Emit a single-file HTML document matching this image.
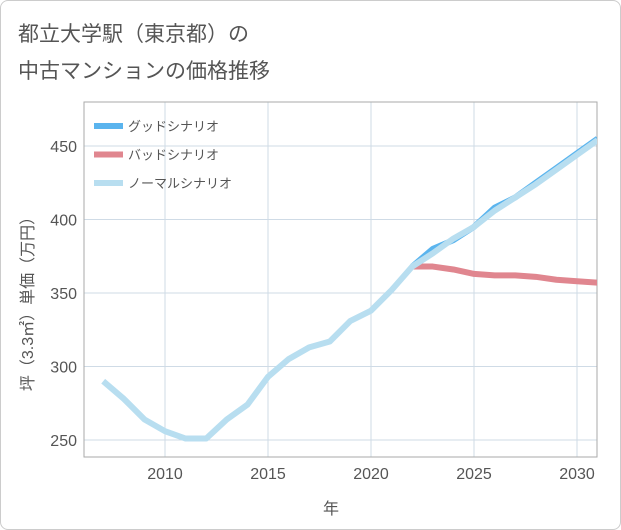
<!DOCTYPE html>
<html><head><meta charset="utf-8"><style>
body{margin:0;background:#fff;font-family:"Liberation Sans","Noto Sans CJK JP",sans-serif;}
#wrap{position:relative;width:619px;height:528px;border:1px solid #ccc;border-radius:8px;overflow:hidden;background:#fff}
</style></head><body>
<div id="wrap">
<svg id="chart" width="621" height="530" style="position:absolute;left:-1px;top:-1px"></svg>
</div>
<script>
const years=[2007,2008,2009,2010,2011,2012,2013,2014,2015,2016,2017,2018,2019,2020,2021,2022,2023,2024,2025,2026,2027,2028,2029,2030,2031];
const normal=[290,278,264,256,251,251,264,274,293,305,313,317,331,338,352,368,377,387,395,406,415,424,434,444,454];
const goodYears=[2022,2023,2024,2025,2026,2027,2028,2029,2030,2031];
const good=[368,380,386,395,408,415,425,435,445,455];
const badYears=[2022,2023,2024,2025,2026,2027,2028,2029,2030,2031];
const bad=[368,368,366,363,362,362,361,359,358,357];
const xTicks=[2010,2015,2020,2025,2030];
const yTicks=[250,300,350,400,450];
const NS="http://www.w3.org/2000/svg";
const svg=document.getElementById('chart');
const L=84,R=597,T=102,B=457;
const x=v=>165+(v-2010)*20.6;
const y=v=>440-(v-250)*1.47;
function mk(t,a,p){const e=document.createElementNS(NS,t);for(const k in a)e.setAttribute(k,a[k]);(p||svg).appendChild(e);return e;}
let t;
t=mk('text',{x:18,y:41,'font-size':21,fill:'#555'});t.textContent='都立大学駅（東京都）の';


t=mk('text',{x:18,y:78,'font-size':21,fill:'#555'});t.textContent='中古マンションの価格推移';


xTicks.forEach(v=>{const l=mk('line',{x1:x(v),x2:x(v),y1:T,y2:B,stroke:'#cfdbe6','stroke-width':1});


const tx=mk('text',{x:x(v),y:479,'font-size':16,fill:'#555','text-anchor':'middle'});tx.textContent=v;

});
yTicks.forEach(v=>{const l=mk('line',{x1:L,x2:R,y1:y(v),y2:y(v),stroke:'#cfdbe6','stroke-width':1});


const tx=mk('text',{x:77,y:y(v)+6,'font-size':16,fill:'#555','text-anchor':'end'});tx.textContent=v;

});
const fr=mk('rect',{x:L,y:T,width:R-L,height:B-T,fill:'none',stroke:'#aaa','stroke-width':1});


const cp=mk('clipPath',{id:'cp'});mk('rect',{x:L,y:T,width:R-L,height:B-T},cp);
function series(xs,ys,c,n){const p=mk('polyline',{points:xs.map((v,i)=>x(v)+','+y(ys[i])).join(' '),fill:'none',stroke:c,'stroke-width':6,'stroke-linejoin':'round','clip-path':'url(#cp)'});

}
series(badYears,bad,'#e0868f','bad-scenario-line');
series(goodYears,good,'#5ab4ee','good-scenario-line');
series(years,normal,'#b8def0','normal-scenario-line');
[['グッドシナリオ','#5ab4ee','legend-good'],['バッドシナリオ','#e0868f','legend-bad'],['ノーマルシナリオ','#b8def0','legend-normal']].forEach((d,i)=>{
const yy=126+i*28.5;const g=mk('g',{});


mk('line',{x1:94,x2:123,y1:yy,y2:yy,stroke:d[1],'stroke-width':6},g);
const tx=mk('text',{x:128,y:yy+5,'font-size':13,fill:'#555'},g);tx.textContent=d[0];});
t=mk('text',{x:331,y:514,'font-size':16,fill:'#555','text-anchor':'middle'});t.textContent='年';


t=mk('text',{x:0,y:0,'font-size':16,fill:'#555','text-anchor':'middle',transform:'translate(33,300) rotate(-90)'});t.textContent='坪（3.3㎡）単価（万円）';


</script>
</body></html>
